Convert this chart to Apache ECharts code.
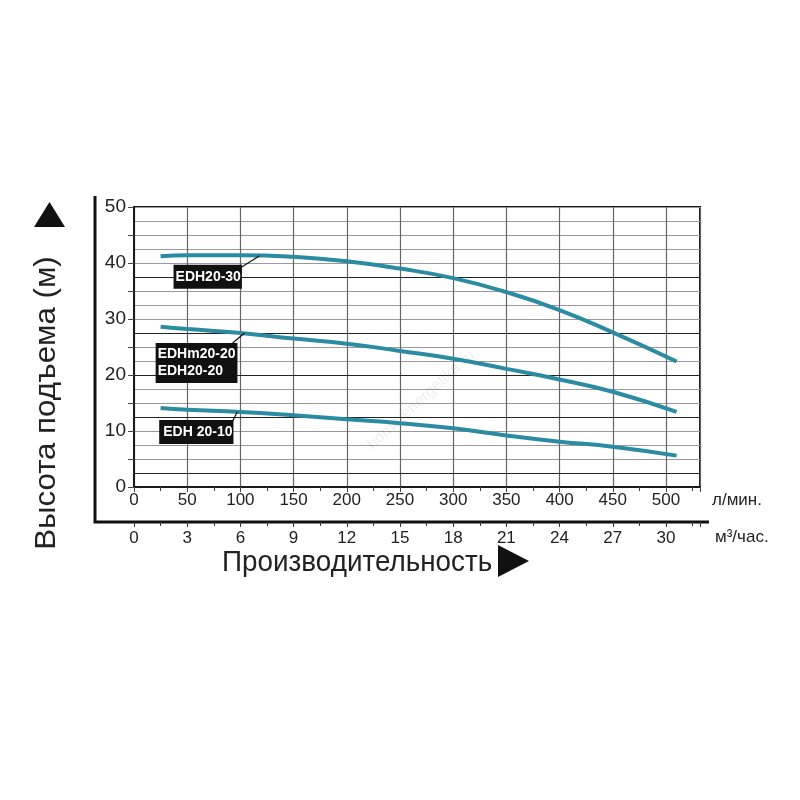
<!DOCTYPE html>
<html>
<head>
<meta charset="utf-8">
<script src="https://cdn.jsdelivr.net/npm/echarts@6/dist/echarts.min.js"></script>
<style>html,body{margin:0;padding:0;background:#fff}#c{width:800px;height:800px}</style>
</head>
<body>
<div id="c"></div>
<script>
// ---- data ----
var flow = [25, 50, 100, 150, 200, 250, 300, 350, 400, 450, 510];          // л/мин
var headEDH2030 = [41.2, 41.4, 41.4, 41.1, 40.3, 39.0, 37.3, 34.8, 31.6, 27.6, 22.4];
var headEDH2020 = [28.6, 28.2, 27.5, 26.5, 25.6, 24.3, 22.9, 21.1, 19.2, 17.0, 13.4];
var headEDH2010 = [14.1, 13.8, 13.4, 12.8, 12.1, 11.4, 10.5, 9.2, 8.1, 7.2, 5.6];
var seriesNames = ['EDH20-30', 'EDHm20-20\nEDH20-20', 'EDH 20-10'];
var labelAnchors = [[118, 41.3], [104, 27.5], [97, 13.4]];                 // points on the curves
var darkRows = [2.5, 12.5, 20, 27.5, 37.5];
var xMaxL = 532;            // л/мин at right border
var m3Factor = 0.06;        // л/мин -> м³/час

var FONT = "'Liberation Sans', Arial, sans-serif";
var CURVE = '#2a8ba1';

function pairs(xs, ys) { return xs.map(function (x, i) { return [x, ys[i]]; }); }

var chart = echarts.init(document.getElementById('c'));
var option = {
  backgroundColor: '#fff',
  animation: false,
  grid: { left: 134, top: 207, width: 566, height: 280, show: true, borderColor: '#1a1a1a', borderWidth: 2, backgroundColor: 'transparent' },
  xAxis: [{
    type: 'value', min: 0, max: xMaxL, interval: 50,
    name: 'л/мин.', nameLocation: 'end', nameGap: 12,
    nameTextStyle: { fontFamily: FONT, fontSize: 17, color: '#222', verticalAlign: 'top', padding: [5, 0, 0, 0] },
    axisLine: { show: true, lineStyle: { color: '#1a1a1a', width: 2 } },
    axisTick: { show: true, length: 5, lineStyle: { color: '#444' } },
    minorTick: { show: true, splitNumber: 2, length: 4, lineStyle: { color: '#444' } },
    axisLabel: { fontFamily: FONT, fontSize: 17, color: '#222', margin: 5, showMaxLabel: false },
    splitLine: { show: true, lineStyle: { color: '#666', width: 1.2 } }
  }, {
    type: 'value', min: 0, max: xMaxL * m3Factor, interval: 3, position: 'bottom', offset: 35,
    name: 'м³/час.', nameLocation: 'end', nameGap: 15,
    nameTextStyle: { fontFamily: FONT, fontSize: 17, color: '#222', verticalAlign: 'top', padding: [7, 0, 0, 0] },
    axisLine: { show: false },
    axisTick: { show: true, length: 5, lineStyle: { color: '#333' } },
    minorTick: { show: true, splitNumber: 2, length: 4, lineStyle: { color: '#333' } },
    axisLabel: { fontFamily: FONT, fontSize: 17, color: '#222', margin: 8, showMaxLabel: false },
    splitLine: { show: false }
  }],
  yAxis: {
    type: 'value', min: 0, max: 50, interval: 5,
    axisLine: { show: true, lineStyle: { color: '#1a1a1a', width: 2 } },
    axisTick: { show: true, length: 6, lineStyle: { color: '#444' } },
    minorTick: { show: false, splitNumber: 2 },
    axisLabel: { fontFamily: FONT, fontSize: 19, color: '#222', margin: 8,
      formatter: function (v) { return v % 10 === 0 ? String(v) : ''; } },
    splitLine: { show: true, lineStyle: { color: '#9a9a9a', width: 1 } },
    minorSplitLine: { show: true, lineStyle: { color: '#9a9a9a', width: 1 } }
  },
  series: [
    { name: seriesNames[0], type: 'line', smooth: 0.5, showSymbol: false, symbol: 'none',
      data: pairs(flow, headEDH2030), lineStyle: { color: CURVE, width: 4 }, z: 5,
      markLine: { silent: true, symbol: 'none', label: { show: false },
        lineStyle: { color: '#222', width: 1, type: 'solid' },
        data: darkRows.map(function (v) { return { yAxis: v }; }) } },
    { name: seriesNames[1], type: 'line', smooth: 0.5, showSymbol: false, symbol: 'none',
      data: pairs(flow, headEDH2020), lineStyle: { color: CURVE, width: 4 }, z: 5 },
    { name: seriesNames[2], type: 'line', smooth: 0.5, showSymbol: false, symbol: 'none',
      data: pairs(flow, headEDH2010), lineStyle: { color: CURVE, width: 4 }, z: 5 }
  ]
};
chart.setOption(option);

// annotation boxes placed relative to anchor points on the curves
var boxOffsets = [ // box left/top offset from anchor, leader start offset
  { dx: -86, dy: 9,  lx: -19, ly: 12, pad: [4, 1, 3, 2] },
  { dx: -89, dy: 10, lx: -12, ly: 10, pad: [3, 2, 3, 2] },
  { dx: -78, dy: 8,  lx: -6,  ly: 12, pad: [4, 1, 3, 4] }
];
var graphics = [];
labelAnchors.forEach(function (a, i) {
  var p = chart.convertToPixel({ xAxisIndex: 0, yAxisIndex: 0 }, a);
  var o = boxOffsets[i];
  graphics.push({ type: 'line', silent: true, z: 20,
    shape: { x1: p[0] + o.lx, y1: p[1] + o.ly, x2: p[0], y2: p[1] },
    style: { stroke: '#111', lineWidth: 1.2 } });
  graphics.push({ type: 'text', silent: true, z: 21, x: p[0] + o.dx, y: p[1] + o.dy,
    style: { text: seriesNames[i], fill: '#fff', fontFamily: FONT, fontWeight: 'bold', fontSize: 14,
      lineHeight: 17, align: 'left', verticalAlign: 'top', backgroundColor: '#111', padding: o.pad } });
});

// outer frame, titles and arrows
graphics.push(
  { type: 'polyline', silent: true, shape: { points: [[95, 196], [95, 522], [709, 522]] },
    style: { stroke: '#111', lineWidth: 3, fill: null } },
  { type: 'polygon', silent: true, shape: { points: [[34, 227], [65, 227], [49.5, 202]] }, style: { fill: '#111' } },
  { type: 'text', silent: true, x: 47, y: 403, rotation: Math.PI / 2, scaleX: 1.04,
    style: { text: 'Высота подъема (м)', fontFamily: FONT, fontSize: 30, fill: '#222', align: 'center', verticalAlign: 'middle' } },
  { type: 'text', silent: true, x: 222, y: 563, scaleX: 0.96,
    style: { text: 'Производительность', fontFamily: FONT, fontSize: 29, fill: '#222', align: 'left', verticalAlign: 'middle' } },
  { type: 'polygon', silent: true, shape: { points: [[498, 545], [498, 577], [529, 561]] }, style: { fill: '#111' } },
  { type: 'text', silent: true, x: 421, y: 400, rotation: 0.74, z: 1,
    style: { text: 'home-energetika.ru', fontFamily: FONT, fontSize: 16, fill: 'rgba(0,0,0,0.07)', align: 'center', verticalAlign: 'middle' } }
);
chart.setOption({ graphic: graphics });
</script>
</body>
</html>
